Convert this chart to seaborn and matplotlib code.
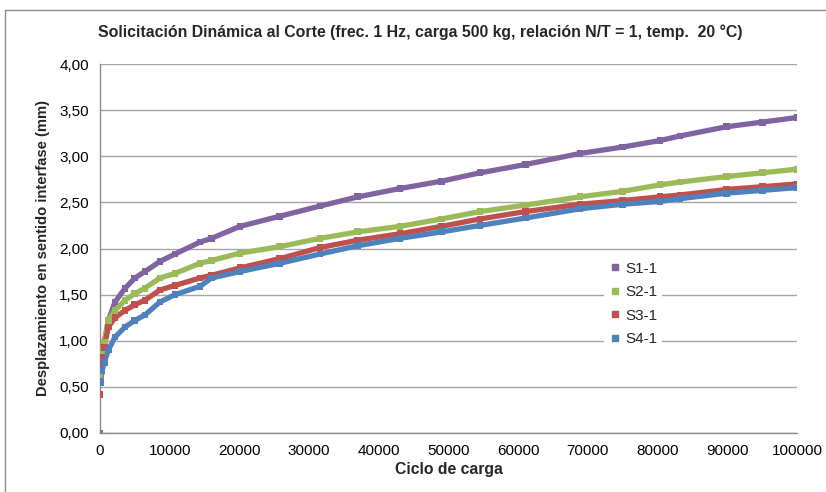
import numpy as np
import pandas as pd
import matplotlib
matplotlib.use("Agg")
import matplotlib.pyplot as plt
from matplotlib.lines import Line2D
from matplotlib.ticker import FuncFormatter, MultipleLocator
import seaborn as sns

# ---- data ----
cycles = [0, 100, 300, 600, 1200, 2150, 3600, 5000, 6450, 8600, 10760, 14350,
          16000, 20090, 25800, 31560, 37000, 43040, 49000, 54520, 61000,
          68870, 75000, 80340, 83210, 89910, 95000, 100000]
s1 = [0.60, 0.70, 0.85, 0.98, 1.22, 1.42, 1.57, 1.68, 1.75, 1.86, 1.94, 2.07,
      2.11, 2.24, 2.35, 2.46, 2.56, 2.65, 2.73, 2.82, 2.91,
      3.03, 3.10, 3.17, 3.22, 3.32, 3.37, 3.42]
s2 = [0.63, 0.68, 0.85, 0.98, 1.22, 1.33, 1.44, 1.51, 1.57, 1.68, 1.73, 1.84,
      1.87, 1.95, 2.02, 2.11, 2.18, 2.24, 2.32, 2.40, 2.47,
      2.56, 2.62, 2.69, 2.72, 2.78, 2.82, 2.86]
s3 = [0.42, 0.75, 0.82, 0.93, 1.15, 1.25, 1.33, 1.39, 1.44, 1.55, 1.60, 1.68,
      1.71, 1.79, 1.89, 2.01, 2.09, 2.16, 2.24, 2.32, 2.40,
      2.48, 2.52, 2.56, 2.58, 2.64, 2.67, 2.70]
s4 = [0.00, 0.55, 0.68, 0.76, 0.90, 1.04, 1.15, 1.22, 1.28, 1.42, 1.50, 1.59,
      1.68, 1.75, 1.84, 1.94, 2.03, 2.11, 2.18, 2.25, 2.33,
      2.43, 2.48, 2.51, 2.54, 2.60, 2.63, 2.66]
series_names = ["S1-1", "S2-1", "S3-1", "S4-1"]
colors = ["#8064A2", "#9BBB59", "#C0504D", "#4F81BD"]

title = "Solicitación Dinámica al Corte (frec. 1 Hz, carga 500 kg, relación N/T = 1, temp.  20 °C)"
xlabel = "Ciclo de carga"
ylabel = "Desplazamiento en sentido interfase (mm)"

# ---- build long table ----
rows = []
for name, vals in zip(series_names, [s1, s2, s3, s4]):
    for c, v in zip(cycles, vals):
        rows.append({"Ciclo": c, "Desp": v, "Serie": name})
df = pd.DataFrame(rows)
df_line = df[df["Ciclo"] > 0]
palette = dict(zip(series_names, colors))

sns.set_theme(style="white")
plt.rcParams["font.family"] = ["Liberation Sans", "DejaVu Sans"]

fig = plt.figure(figsize=(8.26, 4.92), dpi=100)
ax = fig.add_axes([100/826, 1-433/492, 697/826, 369/492])

sns.lineplot(data=df_line, x="Ciclo", y="Desp", hue="Serie", palette=palette,
             estimator=None, sort=True, lw=3.8, legend=False, ax=ax,
             solid_capstyle="butt", zorder=3)
sns.scatterplot(data=df, x="Ciclo", y="Desp", hue="Serie", palette=palette,
                marker="s", s=24, linewidth=0, legend=False, ax=ax, zorder=4)

ax.set_xlim(0, 100000)
ax.set_ylim(0, 4.0)
ax.xaxis.set_major_locator(MultipleLocator(10000))
ax.yaxis.set_major_locator(MultipleLocator(0.5))
ax.yaxis.set_major_formatter(FuncFormatter(lambda v, p: f"{v:.2f}".replace(".", ",")))
ax.xaxis.set_major_formatter(FuncFormatter(lambda v, p: f"{int(v)}"))
ax.grid(axis="y", color="#A6A6A6", lw=1.0, zorder=0)
ax.grid(axis="x", visible=False)
for s in ["top", "right"]:
    ax.spines[s].set_visible(False)
for s in ["left", "bottom"]:
    ax.spines[s].set_color("#8C8C8C")
    ax.spines[s].set_linewidth(1.0)
ax.tick_params(axis="both", labelsize=11, colors="#000000", length=0, pad=8)
ax.tick_params(axis="x", pad=8)

ax.set_xlabel(xlabel, fontsize=11.3, fontweight="bold", labelpad=3)
ax.set_ylabel(ylabel, fontsize=10.6, fontweight="bold", labelpad=7)
fig.text(420/826, 1-32/492, title, ha="center", va="center",
         fontsize=11.4, fontweight="bold")

handles = [Line2D([0], [0], marker="s", color="none", markerfacecolor=c,
                  markeredgecolor=c, markersize=4.5, linestyle="none")
           for c in colors]
leg = ax.legend(handles, series_names, loc="upper left",
                bbox_to_anchor=(0.712, 0.497), frameon=True, fontsize=11,
                handlelength=0.8, handletextpad=0.3, labelspacing=0.62,
                borderpad=0.3)
leg.get_frame().set_facecolor("white")
leg.get_frame().set_edgecolor("none")
leg.get_frame().set_alpha(1.0)
leg.set_zorder(5)

# outer chart-area border (left and top visible in reference)
fig.add_artist(Line2D([5/826, 5/826], [0, 1-10/492], transform=fig.transFigure,
                      color="#8C8C8C", lw=1.0))
fig.add_artist(Line2D([5/826, 1], [1-10/492, 1-10/492], transform=fig.transFigure,
                      color="#8C8C8C", lw=1.0))

fig.savefig("out.png", dpi=100)
